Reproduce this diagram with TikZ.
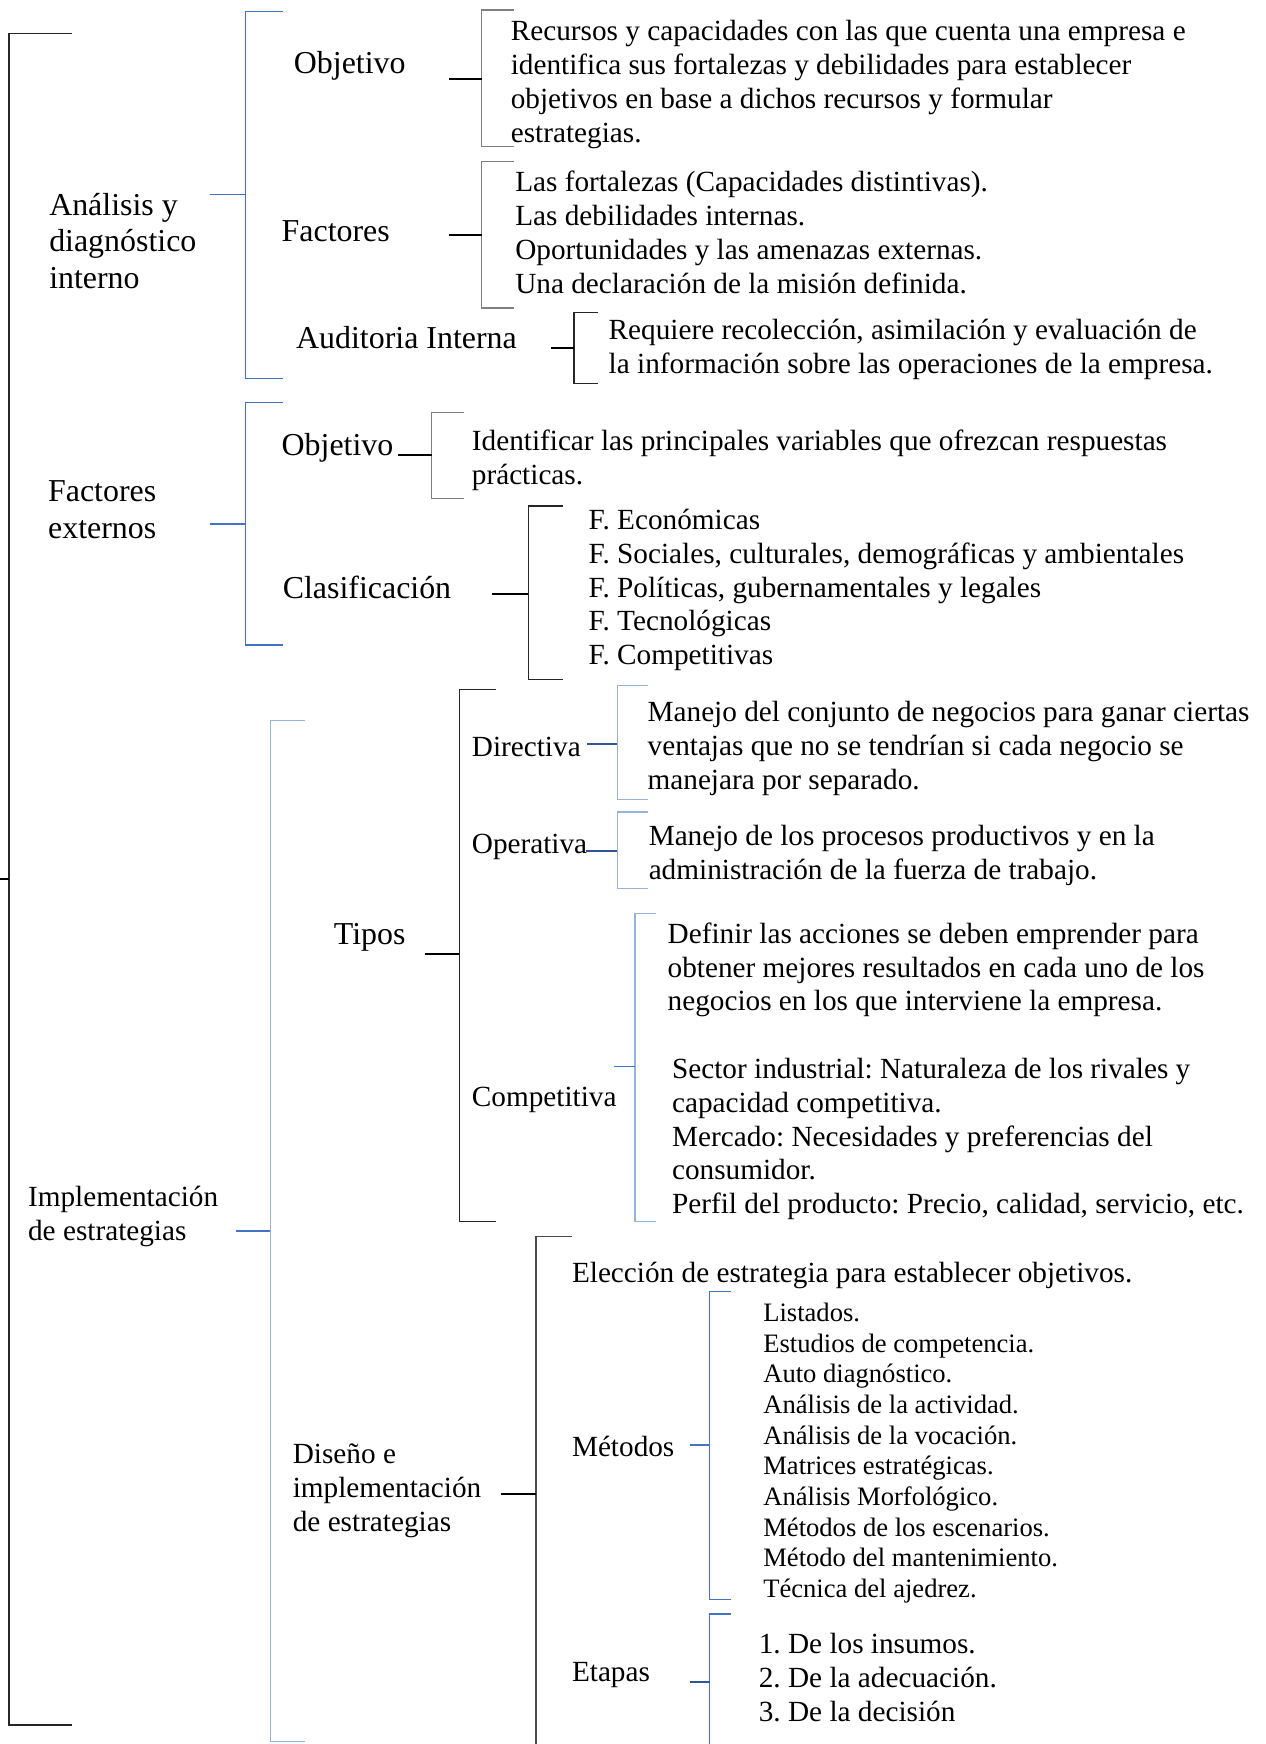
\documentclass[tikz,border=0pt]{standalone}
\usepackage{fontspec}
\setmainfont{Liberation Serif}
\frenchspacing
\usetikzlibrary{positioning}

\definecolor{wordblue}{HTML}{4472C4}
\definecolor{paleblue}{HTML}{95B3D7}
\definecolor{deepblue}{HTML}{2F5597}
\definecolor{bracegray}{HTML}{7F7F7F}

\begin{document}
\begin{tikzpicture}[x=0.025cm, y=-0.025cm,
    brace/.style={line width=0.8pt},
    stub/.style={line width=1.4pt, black},
    bstub/.style={line width=1pt},
    big/.style={anchor=west, inner sep=0pt, yshift=-0.6pt, align=left, font=\fontsize{20.4}{23.3}\selectfont},
    txt/.style={anchor=west, inner sep=0pt, yshift=-1.8pt, align=left, font=\fontsize{18.7}{21.6}\selectfont},
    small/.style={anchor=west, inner sep=0pt, yshift=-1.8pt, align=left, font=\fontsize{17}{19.6}\selectfont}]

\useasboundingbox (0,0) rectangle (1138,1568);

\newcommand{\brk}[8]{
  % #1 = name, #2 = x, #3 = top, #4 = bottom, #5 = tick end, #6 = stub start, #7 = stub y, #8 = colour
  \draw[brace, #8] (#5,#3) -- (#2,#3) -- (#2,#4) -- (#5,#4);
  \coordinate (#1-in) at (#2,#7);
  \coordinate (#1-out) at (#6,#7);
}

% outer bracket
\brk{root}{8}{30}{1551}{65}{0}{790}{black!85}
\draw[stub] (root-out) -- (root-in);

% analisis y diagnostico interno
\node[big] (analisis) at (44,215.5) {Análisis y\\diagnóstico\\interno};
\brk{ana}{221}{10}{340}{254}{189}{175}{wordblue}
\draw[bstub, wordblue] (ana-out) -- (ana-in);

\node[big] (objA) at (264,58) {Objetivo};
\brk{objA}{433}{9}{132}{462}{404}{71}{bracegray}
\draw[stub] (objA-out) -- (objA-in);
\node[txt] (recursos) at (459,73.5) {Recursos y capacidades con las que cuenta una empresa e\\identifica sus fortalezas y debilidades para establecer\\objetivos en base a dichos recursos y formular\\estrategias.};

\node[big] (factA) at (253,207) {Factores};
\brk{factA}{433}{145}{277}{462}{404}{211}{bracegray}
\draw[stub] (factA-out) -- (factA-in);
\node[txt] (fortalezas) at (463,206.5) {Las fortalezas (Capacidades distintivas).\\Las debilidades internas.\\Oportunidades y las amenazas externas.\\Una declaración de la misión definida.};

\node[big] (auditoria) at (266,303) {Auditoria Interna};
\brk{aud}{516}{281}{345}{538}{495}{313}{black!85}
\draw[stub] (aud-out) -- (aud-in);
\node[txt] (requiere) at (547,311.5) {Requiere recolección, asimilación y evaluación de\\la información sobre las operaciones de la empresa.};

% factores externos
\node[big] (externos) at (43,457.5) {Factores\\externos};
\brk{ext}{221}{362}{580}{254}{189}{471}{wordblue}
\draw[bstub, wordblue] (ext-out) -- (ext-in);

\node[big] (objB) at (253,402) {Objetivo};
\brk{objB}{388}{371}{448}{417}{358}{409}{bracegray}
\draw[stub] (objB-out) -- (objB-in);
\node[txt] (identificar) at (424,411.5) {Identificar las principales variables que ofrezcan respuestas\\prácticas.};

\node[big] (clasif) at (254,527) {Clasificación};
\brk{clasif}{475}{455}{611}{506}{442}{534}{black!85}
\draw[stub] (clasif-out) -- (clasif-in);
\node[txt] (fuerzas) at (529,528) {F. Económicas\\F. Sociales, culturales, demográficas y ambientales\\F. Políticas, gubernamentales y legales\\F. Tecnológicas\\F. Competitivas};

% implementacion de estrategias
\node[txt] (implem) at (25,1091) {Implementación\\de estrategias};
\brk{imp}{243}{648}{1566}{274}{212}{1107}{paleblue}
\draw[bstub, wordblue] (imp-out) -- (imp-in);

\node[big] (tipos) at (300,842) {Tipos};
\brk{tipos}{413}{620}{1098}{446}{382}{858}{black!85}
\draw[stub] (tipos-out) -- (tipos-in);

\node[txt] (directiva) at (424,669) {Directiva};
\brk{dir}{555}{616}{719}{583}{528}{669}{paleblue}
\draw[bstub, deepblue] (dir-out) -- (dir-in);
\node[txt] (manejoA) at (582,670.5) {Manejo del conjunto de negocios para ganar ciertas\\ventajas que no se tendrían si cada negocio se\\manejara por separado.};

\node[txt] (operativa) at (424,759) {Operativa};
\brk{ope}{555}{730}{799}{583}{527}{765}{paleblue}
\draw[bstub, deepblue] (ope-out) -- (ope-in);
\node[txt] (manejoB) at (583,766.5) {Manejo de los procesos productivos y en la\\administración de la fuerza de trabajo.};

\node[txt] (competitiva) at (424,986) {Competitiva};
\brk{comp}{571}{821}{1098}{590}{552}{959}{paleblue}
\draw[bstub, wordblue] (comp-out) -- (comp-in);
\node[txt] (definir) at (600,869.5) {Definir las acciones se deben emprender para\\obtener mejores resultados en cada uno de los\\negocios en los que interviene la empresa.};
\node[txt] (sector) at (604,1021.5) {Sector industrial: Naturaleza de los rivales y\\capacidad competitiva.\\Mercado: Necesidades y preferencias del\\consumidor.\\Perfil del producto: Precio, calidad, servicio, etc.};

% diseno e implementacion
\node[txt] (diseno) at (263,1338) {Diseño e\\implementación\\de estrategias};
\draw[brace, black!70] (514,1112) -- (482,1112) -- (482,1568);
\coordinate (dis-in) at (482,1343);
\coordinate (dis-out) at (450,1343);
\draw[stub] (dis-out) -- (dis-in);

\node[txt] (eleccion) at (514,1144) {Elección de estrategia para establecer objetivos.};

\node[txt] (metodos) at (514,1298) {Métodos};
\brk{met}{638}{1161}{1438}{657}{620}{1299}{wordblue}
\draw[bstub, wordblue] (met-out) -- (met-in);
\node[small] (listados) at (686,1304) {Listados.\\Estudios de competencia.\\Auto diagnóstico.\\Análisis de la actividad.\\Análisis de la vocación.\\Matrices estratégicas.\\Análisis Morfológico.\\Métodos de los escenarios.\\Método del mantenimiento.\\Técnica del ajedrez.};

\node[txt] (etapas) at (514,1503) {Etapas};
\draw[brace, wordblue] (657,1451) -- (638,1451) -- (638,1568);
\coordinate (eta-in) at (638,1512);
\coordinate (eta-out) at (620,1512);
\draw[bstub, deepblue] (eta-out) -- (eta-in);
\node[txt] (insumos) at (682,1505.5) {1. De los insumos.\\2. De la adecuación.\\3. De la decisión};

\end{tikzpicture}
\end{document}
